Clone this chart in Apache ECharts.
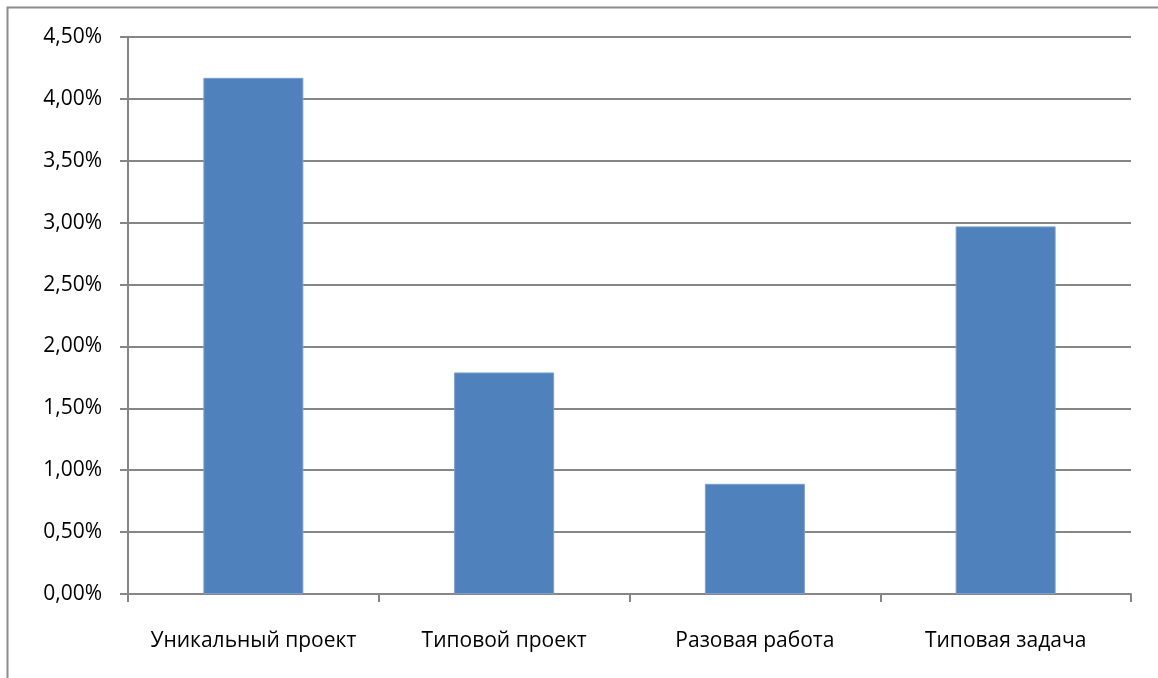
<!DOCTYPE html>
<html>
<head>
<meta charset="utf-8">
<script src="https://cdn.jsdelivr.net/npm/echarts@6/dist/echarts.min.js"></script>
<style>
  html, body { margin: 0; padding: 0; background: #fff; }
  #chart { width: 1158px; height: 678px; }
</style>
</head>
<body>
<div id="chart"></div>
<script>
  // категории и значения (%)
  var categories = ['Уникальный проект', 'Типовой проект', 'Разовая работа', 'Типовая задача'];
  var values = [4.17, 1.79, 0.89, 2.97];

  var myChart = echarts.init(document.getElementById('chart'));
  var font = '"Open Sans", "Noto Sans", sans-serif';

  var option = {
    animation: false,
    graphic: [{
      type: 'rect',
      shape: { x: 7.5, y: 7.5, width: 1200, height: 700 },
      style: { fill: 'none', stroke: '#8c8c8c', lineWidth: 2 },
      silent: true
    }],
    grid: { left: 128, right: 27, top: 37, bottom: 84 },
    xAxis: {
      type: 'category',
      data: categories,
      axisLine: { lineStyle: { color: '#868686', width: 2 } },
      axisTick: { show: true, length: 8, interval: 0, lineStyle: { color: '#868686', width: 2 } },
      axisLabel: { interval: 0, hideOverlap: false, margin: 37, color: '#000', fontSize: 21, fontFamily: font }
    },
    yAxis: {
      type: 'value',
      min: 0,
      max: 4.5,
      interval: 0.5,
      axisLine: { show: true, lineStyle: { color: '#868686', width: 2 } },
      axisTick: { show: true, length: 8, lineStyle: { color: '#868686', width: 2 } },
      splitLine: { lineStyle: { color: '#868686', width: 2 } },
      axisLabel: {
        margin: 26,
        color: '#000',
        fontSize: 21,
        fontFamily: font,
        formatter: function (v) { return v.toFixed(2).replace('.', ',') + '%'; }
      }
    },
    series: [{
      type: 'bar',
      data: values,
      barWidth: 100,
      itemStyle: { color: '#4f81bd', borderColor: '#7a9fcf', borderWidth: 1 }
    }]
  };
  myChart.setOption(option);
</script>
</body>
</html>
